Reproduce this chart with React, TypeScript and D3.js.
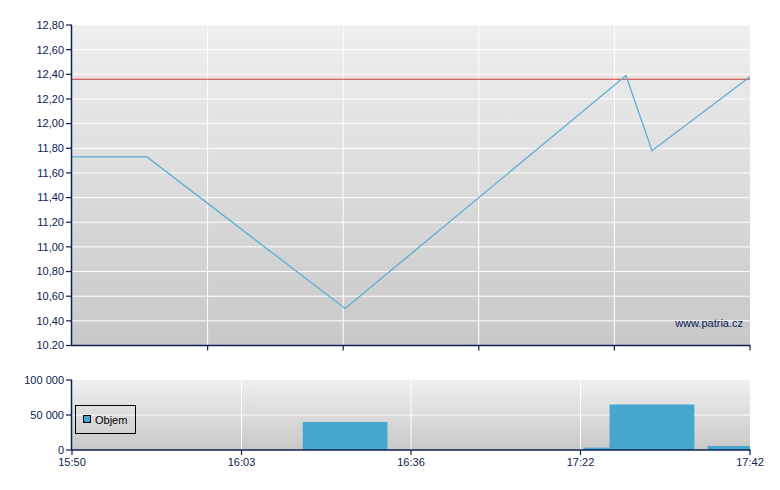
import React from "react";
import * as d3 from "d3";

const pointTimes = ["15:50:00", "15:55:45", "16:23:10", "17:27:22", "17:30:26", "17:42:00"];
const prices = [11.73, 11.73, 10.5, 12.39, 11.78, 12.38];
const volumes = [0, 0, 40000, 3300, 65000, 5700];
const refPrice = 12.36;

const axisTimes = ["15:50", "16:03", "16:36", "17:22", "17:42"];
const priceTicks = [10.2, 10.4, 10.6, 10.8, 11.0, 11.2, 11.4, 11.6, 11.8, 12.0, 12.2, 12.4, 12.6, 12.8];
const priceTickLabels = ["10.20", "10,40", "10,60", "10,80", "11,00", "11,20", "11,40", "11,60", "11,80", "12,00", "12,20", "12,40", "12,60", "12,80"];
const volTicks = [0, 50000, 100000];
const volTickLabels = ["0", "50 000", "100 000"];
const legendLabel = "Objem";
const watermark = "www.patria.cz";

const toMin = (s: string) => {
  const [h, m, sec] = s.split(":").map(Number);
  return h * 60 + m + (sec || 0) / 60 - (15 * 60 + 50);
};

export default function App() {
  const left = 72, right = 750;
  const top1 = 25, bot1 = 345.5;
  const top2 = 380, bot2 = 450;
  const w = right - left;
  const navy = "#0b2155";
  const font = "'Liberation Sans', Arial, sans-serif";

  const axisMin = axisTimes.map(toMin);
  const x = d3.scaleLinear().domain(axisMin).range(axisMin.map((_, i) => left + (i * w) / (axisMin.length - 1)));
  const y = d3.scaleLinear().domain([10.2, 12.8]).range([bot1, top1]);
  const yv = d3.scaleLinear().domain([0, 100000]).range([bot2, top2]);

  const pts = pointTimes.map((t, i) => [x(toMin(t)), y(prices[i])] as [number, number]);
  const line = d3.line()(pts) || "";
  const upperGrid = d3.range(1, 6).map((i) => left + (i * w) / 5);
  const barW = w / 8;

  return (
    <svg width={780} height={490} style={{ position: "absolute", left: 0, top: 0 }} fontFamily={font}>
      <defs>
        <linearGradient id="g1" x1="0" y1="0" x2="0" y2="1">
          <stop offset="0" stopColor="#efefef" />
          <stop offset="1" stopColor="#c8c8c8" />
        </linearGradient>
        <linearGradient id="g2" x1="0" y1="0" x2="0" y2="1">
          <stop offset="0" stopColor="#efefef" />
          <stop offset="1" stopColor="#c8c8c8" />
        </linearGradient>
        <clipPath id="c2">
          <rect x={left} y={top2} width={w} height={bot2 - top2} />
        </clipPath>
      </defs>
      <rect width={780} height={490} fill="#ffffff" />
      <rect x={left} y={top1} width={w} height={bot1 - top1} fill="url(#g1)" />
      <rect x={left} y={y(12.4)} width={w} height={y(refPrice) - y(12.4)} fill="#f0e2e2" />
      {priceTicks.slice(1).map((t) => (
        <line key={t} x1={left} x2={right} y1={y(t)} y2={y(t)} stroke="#ffffff" strokeWidth={1} />
      ))}
      {upperGrid.slice(0, 4).map((gx) => (
        <line key={gx} x1={gx} x2={gx} y1={top1} y2={bot1} stroke="#ffffff" strokeWidth={1} />
      ))}
      <line x1={left} x2={right} y1={y(refPrice)} y2={y(refPrice)} stroke="#cc3a3a" strokeWidth={1.2} />
      <path d={line} fill="none" stroke="#5aaed6" strokeWidth={1.3} />
      <text x={743} y={327} textAnchor="end" fontSize={11} fill={navy}>{watermark}</text>
      <line x1={left - 0.5} x2={left - 0.5} y1={top1} y2={bot1} stroke={navy} strokeWidth={1.5} />
      <line x1={left - 0.5} x2={right + 0.5} y1={bot1} y2={bot1} stroke={navy} strokeWidth={1.5} />
      {priceTicks.map((t, i) => (
        <g key={t}>
          <line x1={left - 6} x2={left} y1={y(t)} y2={y(t)} stroke={navy} strokeWidth={1.2} />
          <text x={left - 8} y={y(t)} dy="0.35em" textAnchor="end" fontSize={11} fill={navy}>{priceTickLabels[i]}</text>
        </g>
      ))}
      {upperGrid.map((gx) => (
        <line key={gx} x1={gx} x2={gx} y1={bot1} y2={bot1 + 5} stroke={navy} strokeWidth={1.2} />
      ))}

      <rect x={left} y={top2} width={w} height={bot2 - top2} fill="url(#g2)" />
      {volTicks.slice(1, 2).map((t) => (
        <line key={t} x1={left} x2={right} y1={yv(t)} y2={yv(t)} stroke="#ffffff" strokeWidth={1} />
      ))}
      {axisMin.slice(1, -1).map((m) => (
        <line key={m} x1={x(m)} x2={x(m)} y1={top2} y2={bot2} stroke="#ffffff" strokeWidth={1} />
      ))}
      <g clipPath="url(#c2)">
        {pointTimes.map((t, i) =>
          volumes[i] > 0 ? (
            <rect key={t} x={x(toMin(t)) - barW / 2} y={yv(volumes[i])} width={barW} height={bot2 - yv(volumes[i])} fill="#47a6ce" />
          ) : null
        )}
      </g>
      <rect x={75.5} y={405.5} width={60} height={28} fill="none" stroke="#000000" strokeWidth={1} />
      <rect x={83.5} y={415.5} width={7} height={7} fill="#47a6ce" stroke="#000000" strokeWidth={1} />
      <text x={95} y={423.5} fontSize={11} fill="#000000">{legendLabel}</text>
      <line x1={left - 0.5} x2={left - 0.5} y1={top2} y2={bot2} stroke={navy} strokeWidth={1.5} />
      <line x1={left - 0.5} x2={right + 0.5} y1={bot2} y2={bot2} stroke={navy} strokeWidth={1.5} />
      {volTicks.map((t, i) => (
        <g key={t}>
          <line x1={left - 6} x2={left} y1={yv(t)} y2={yv(t)} stroke={navy} strokeWidth={1.2} />
          <text x={left - 8} y={yv(t)} dy="0.35em" textAnchor="end" fontSize={11} fill={navy}>{volTickLabels[i]}</text>
        </g>
      ))}
      {axisMin.map((m, i) => (
        <g key={m}>
          <line x1={x(m)} x2={x(m)} y1={bot2} y2={bot2 + 5} stroke={navy} strokeWidth={1.2} />
          <text x={x(m)} y={466} textAnchor="middle" fontSize={11} fill={navy}>{axisTimes[i]}</text>
        </g>
      ))}
    </svg>
  );
}
